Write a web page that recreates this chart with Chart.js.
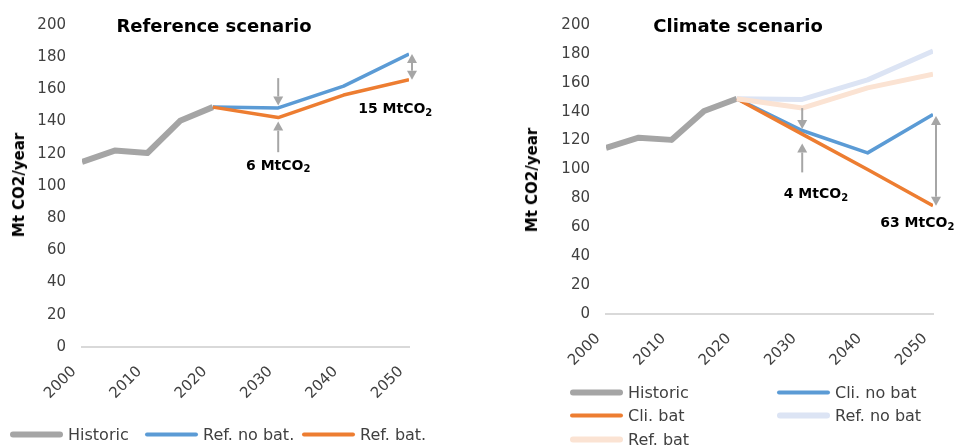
<!DOCTYPE html>
<html>
<head>
<meta charset="utf-8">
<script src="https://cdn.jsdelivr.net/npm/chart.js@4"></script>
<style>
  body { margin: 0; width: 954px; height: 448px; overflow: hidden; background: #fff; position: relative; font-family: "DejaVu Sans", sans-serif; }
  .box { position: absolute; top: 0; height: 448px; }
  .title { position: absolute; font-weight: bold; font-size: 18px; color: #000; transform: translate(-50%, -50%); white-space: nowrap; }
  .ytitle { position: absolute; font-weight: bold; font-size: 15px; color: #000; transform: translate(-50%, -50%) rotate(-90deg); white-space: nowrap; }
  .leg { position: absolute; font-size: 16px; color: #404040; white-space: nowrap; display: flex; align-items: center; transform: translateY(-50%); }
  .leg .ln { display: inline-block; width: 53px; margin-right: 5px; border-radius: 3px; }
</style>
</head>
<body>
<div class="box" style="left:0;width:475px"><canvas id="refChart"></canvas></div>
<div class="box" style="left:480px;width:474px"><canvas id="cliChart"></canvas></div>
<div class="title" style="left:214px;top:25px">Reference scenario</div>
<div class="title" style="left:738px;top:25px">Climate scenario</div>
<div class="ytitle" style="left:19px;top:185px">Mt CO2/year</div>
<div class="ytitle" style="left:532px;top:180px">Mt CO2/year</div>
<div id="legends"></div>
<script>
// historic emissions
const histYears = [2000, 2005, 2010, 2015, 2020];
const histValues = [115, 122, 120.5, 140.5, 149];

// scenarios
const scenYears = [2020, 2030, 2040, 2050];
const refNoBat = [149, 148.5, 162, 182];
const refBat = [149, 142.5, 156.5, 166];
const cliNoBat = [149, 127, 111.5, 138];
const cliBat = [149, 124.5, 100, 75];

const GREY = '#a5a5a5', BLUE = '#5b9bd5', ORANGE = '#ed7d31';
const LIGHT_BLUE = '#dce4f4', LIGHT_ORANGE = '#fbe3d3';
const ARROW = '#a6a6a6';
const FONT = '"DejaVu Sans", sans-serif';

function pts(xs, ys) {
    return xs.map((x, i) => ({ x: x, y: ys[i] }));
}

function line(label, xs, ys, color, width, order) {
    return {
        label: label,
        data: pts(xs, ys),
        borderColor: color,
        backgroundColor: color,
        borderWidth: width,
        pointRadius: 0,
        tension: 0,
        borderJoinStyle: 'round',
        order: order
    };
}

// arrows and labels drawn in data coordinates
function annotations(arrows, labels) {
    return {
        id: 'annot',
        afterDatasetsDraw(chart) {
            const { ctx, scales: { x, y } } = chart;
            ctx.save();
            ctx.strokeStyle = ARROW;
            ctx.fillStyle = ARROW;
            ctx.lineWidth = 2;
            arrows.forEach(a => {
                const px = x.getPixelForValue(a.x) + (a.dx || 0);
                const y1 = y.getPixelForValue(a.from);
                const y2 = y.getPixelForValue(a.to);
                const dir = y2 > y1 ? 1 : -1;
                const hl = 9, hw = 5;
                const s1 = a.both ? y1 + dir * hl : y1;
                ctx.beginPath();
                ctx.moveTo(px, s1);
                ctx.lineTo(px, y2 - dir * hl);
                ctx.stroke();
                const head = (tip, d) => {
                    ctx.beginPath();
                    ctx.moveTo(px, tip);
                    ctx.lineTo(px - hw, tip - d * hl);
                    ctx.lineTo(px + hw, tip - d * hl);
                    ctx.closePath();
                    ctx.fill();
                };
                head(y2, dir);
                if (a.both) head(y1, -dir);
            });
            ctx.fillStyle = '#000';
            ctx.textBaseline = 'middle';
            labels.forEach(l => {
                const px = x.getPixelForValue(l.x);
                const py = y.getPixelForValue(l.y);
                ctx.font = 'bold 14px ' + FONT;
                const w1 = ctx.measureText(l.text).width;
                ctx.font = 'bold 10px ' + FONT;
                const w2 = ctx.measureText(l.sub).width;
                const left = px - (w1 + w2) / 2;
                ctx.textAlign = 'left';
                ctx.font = 'bold 14px ' + FONT;
                ctx.fillText(l.text, left, py);
                ctx.font = 'bold 10px ' + FONT;
                ctx.fillText(l.sub, left + w1, py + 4);
            });
            ctx.restore();
        }
    };
}

function makeChart(id, datasets, pad, yWidth, xHeight, annot) {
    return new Chart(document.getElementById(id), {
        type: 'line',
        data: { datasets: datasets },
        options: {
            responsive: true,
            maintainAspectRatio: false,
            animation: false,
            layout: { padding: pad },
            plugins: { legend: { display: false }, tooltip: { enabled: false } },
            scales: {
                x: {
                    type: 'linear',
                    min: 2000,
                    max: 2050,
                    grid: { display: true, color: 'rgba(0,0,0,0)', drawTicks: false },
                    border: { display: true, color: '#d9d9d9', width: 2 },
                    ticks: {
                        stepSize: 10,
                        autoSkip: false,
                        minRotation: 45,
                        maxRotation: 45,
                        padding: 16,
                        labelOffset: -8,
                        color: '#404040',
                        font: { family: FONT, size: 15 },
                        callback: v => String(v)
                    },
                    afterFit: s => {
                        s.height = xHeight;
                        s.paddingLeft = 0;
                        s.paddingRight = 0;
                    }
                },
                y: {
                    min: 0,
                    max: 200,
                    grid: { display: true, color: 'rgba(0,0,0,0)', drawTicks: false },
                    border: { display: false },
                    ticks: {
                        stepSize: 20,
                        padding: 16,
                        color: '#404040',
                        font: { family: FONT, size: 15 }
                    },
                    afterFit: s => { s.width = yWidth; }
                }
            }
        },
        plugins: [annotations(annot.arrows, annot.labels)]
    });
}

makeChart('refChart', [
    line('Historic', histYears, histValues, GREY, 6, 3),
    line('Ref. no bat.', scenYears, refNoBat, BLUE, 3.5, 2),
    line('Ref. bat.', scenYears, refBat, ORANGE, 3.5, 1)
], { left: 0, top: 22, right: 66, bottom: 41 }, 82, 60, {
    arrows: [
        { x: 2030, from: 167, to: 150 },
        { x: 2030, from: 121, to: 140 },
        { x: 2050, from: 166, to: 182, both: true, dx: 3 }
    ],
    labels: [
        { x: 2030, y: 112.5, text: '6 MtCO', sub: '2' },
        { x: 2047.9, y: 147.5, text: '15 MtCO', sub: '2' }
    ]
});

makeChart('cliChart', [
    line('Historic', histYears, histValues, GREY, 6, 5),
    line('Cli. no bat', scenYears, cliNoBat, BLUE, 3.5, 4),
    line('Cli. bat', scenYears, cliBat, ORANGE, 3.5, 3),
    line('Ref. no bat', scenYears, refNoBat, LIGHT_BLUE, 5, 2),
    line('Ref. bat', scenYears, refBat, LIGHT_ORANGE, 5, 1)
], { left: 33, top: 22, right: 21, bottom: 74 }, 93, 60, {
    arrows: [
        { x: 2030, from: 142.5, to: 128 },
        { x: 2030, from: 98, to: 118 },
        { x: 2050, from: 75, to: 137, both: true, dx: 3 }
    ],
    labels: [
        { x: 2032.1, y: 82.5, text: '4 MtCO', sub: '2' },
        { x: 2047.6, y: 62.7, text: '63 MtCO', sub: '2' }
    ]
});

// legends
const legendItems = [
    { name: 'Historic', color: GREY, w: 6, x: 10, y: 434 },
    { name: 'Ref. no bat.', color: BLUE, w: 4, x: 145, y: 434 },
    { name: 'Ref. bat.', color: ORANGE, w: 4, x: 302, y: 434 },
    { name: 'Historic', color: GREY, w: 6, x: 570, y: 392 },
    { name: 'Cli. no bat', color: BLUE, w: 4, x: 777, y: 392 },
    { name: 'Cli. bat', color: ORANGE, w: 4, x: 570, y: 415 },
    { name: 'Ref. no bat', color: LIGHT_BLUE, w: 6, x: 777, y: 415 },
    { name: 'Ref. bat', color: LIGHT_ORANGE, w: 6, x: 570, y: 439 }
];
const legends = document.getElementById('legends');
legendItems.forEach(it => {
    const d = document.createElement('div');
    d.className = 'leg';
    d.style.left = it.x + 'px';
    d.style.top = it.y + 'px';
    d.innerHTML = '<span class="ln" style="height:' + it.w + 'px;background:' + it.color + '"></span>' + it.name;
    legends.appendChild(d);
});
</script>
</body>
</html>
